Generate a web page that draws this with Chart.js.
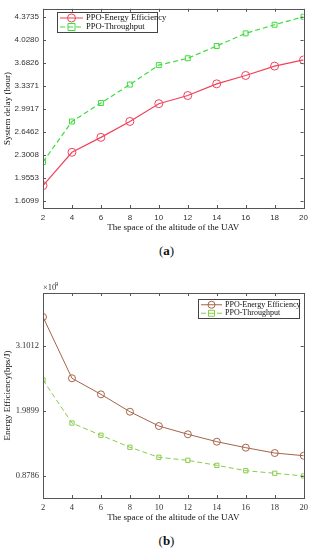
<!DOCTYPE html>
<html>
<head>
<meta charset="utf-8">
<script src="https://cdn.jsdelivr.net/npm/chart.js@4.4.0/dist/chart.umd.min.js"></script>
<style>
  body { margin: 0; background: #fff; width: 313px; height: 550px; position: relative; overflow: hidden; }
  canvas { position: absolute; left: 0; }
  #cA { top: 0; }
  #cB { top: 262px; }
  .cap { position: absolute; width: 313px; left: 10px; text-align: center; font-family: "Liberation Serif", serif; font-size: 13px; color: #111; }
</style>
</head>
<body>
<canvas id="cA" width="313" height="236"></canvas>
<div class="cap" style="top:243px">(<b>a</b>)</div>
<canvas id="cB" width="313" height="264"></canvas>
<div class="cap" style="top:533px">(<b>b</b>)</div>
<script>
// x axis: space of the altitude of the UAV
var altitudes = [2, 4, 6, 8, 10, 12, 14, 16, 18, 20];

// (a) system delay (hour)
var delayEnergyEff = [1.837, 2.339, 2.564, 2.803, 3.071, 3.194, 3.370, 3.496, 3.637, 3.730];
var delayThroughput = [2.193, 2.803, 3.081, 3.359, 3.652, 3.755, 3.940, 4.130, 4.260, 4.380];
var delayTicks = ['1.6099', '1.9553', '2.3008', '2.6462', '2.9917', '3.3371', '3.6826', '4.0280', '4.3735'];

// (b) energy efficiency (x10^9 bps/J)
var eeEnergyEff = [3.590, 2.544, 2.270, 1.973, 1.729, 1.588, 1.461, 1.359, 1.268, 1.222];
var eeThroughput = [2.515, 1.780, 1.571, 1.366, 1.195, 1.143, 1.058, 0.966, 0.922, 0.876];
var eeTicks = ['0.8786', '1.9899', '3.1012'];

function pts(vals) {
    return altitudes.map(function(x, i) { return {x: x, y: vals[i]}; });
}

// matlab style box with inward ticks
var matlabFrame = {
    id: 'matlabFrame',
    afterDraw: function(chart) {
        var ctx = chart.ctx, a = chart.chartArea;
        var x = chart.scales.x, y = chart.scales.y;
        ctx.save();
        ctx.strokeStyle = '#555';
        ctx.lineWidth = 1;
        ctx.strokeRect(Math.round(a.left) + 0.5, Math.round(a.top) + 0.5, Math.round(a.width), Math.round(a.height));
        ctx.beginPath();
        x.ticks.forEach(function(t) {
            var px = Math.round(x.getPixelForValue(t.value)) + 0.5;
            ctx.moveTo(px, a.bottom); ctx.lineTo(px, a.bottom - 3);
            ctx.moveTo(px, a.top); ctx.lineTo(px, a.top + 3);
        });
        y.ticks.forEach(function(t) {
            var py = Math.round(y.getPixelForValue(t.value)) + 0.5;
            ctx.moveTo(a.left, py); ctx.lineTo(a.left + 3, py);
            ctx.moveTo(a.right, py); ctx.lineTo(a.right - 3, py);
        });
        ctx.stroke();
        ctx.restore();
    }
};

// legend box drawn inside the plot
var boxLegend = {
    id: 'boxLegend',
    afterDraw: function(chart, args, o) {
        var ctx = chart.ctx;
        ctx.save();
        ctx.fillStyle = '#fff';
        ctx.fillRect(o.x, o.y, o.w, o.h);
        ctx.strokeStyle = '#444';
        ctx.lineWidth = 1;
        ctx.strokeRect(o.x + 0.5, o.y + 0.5, o.w, o.h);
        ctx.font = o.font;
        ctx.textBaseline = 'middle';
        chart.data.datasets.forEach(function(ds, i) {
            var cy = o.y + o.h / 2 + (i - 0.5) * (o.h / 2 - 1) + 0.5;
            var x0 = o.x + 3, x1 = o.x + 3 + o.lineLen;
            ctx.strokeStyle = ds.borderColor;
            ctx.lineWidth = 1;
            ctx.setLineDash(ds.borderDash || []);
            ctx.beginPath(); ctx.moveTo(x0, cy); ctx.lineTo(x1, cy); ctx.stroke();
            ctx.setLineDash([]);
            var cx = (x0 + x1) / 2;
            ctx.beginPath();
            if (ds.pointStyle === 'rect') {
                var s = ds.pointRadius;
                ctx.rect(cx - s, cy - s, 2 * s, 2 * s);
            } else {
                ctx.arc(cx, cy, ds.pointRadius, 0, Math.PI * 2);
            }
            ctx.stroke();
            ctx.fillStyle = '#111';
            ctx.fillText(ds.label, x1 + 3, cy);
        });
        ctx.restore();
    }
};

var serif = '"Liberation Serif", "Times New Roman", serif';

function makeChart(id, sets, yMin, yMax, yTicks, yTitle, tickFont, pad, legend) {
    return new Chart(document.getElementById(id).getContext('2d'), {
        type: 'line',
        data: { datasets: sets },
        options: {
            responsive: false,
            animation: false,
            layout: { padding: pad },
            elements: { line: { tension: 0 } },
            scales: {
                x: {
                    type: 'linear', min: 2, max: 20,
                    grid: { display: false, drawTicks: false }, border: { display: false },
                    ticks: { stepSize: 2, color: '#333', font: tickFont, padding: 5, maxRotation: 0 },
                    title: { display: true, text: 'The space of the altitude of the UAV', color: '#111',
                             font: { family: serif, size: 9 }, padding: { top: 0, bottom: 3 } },
                    afterFit: function(s) { s.height = 28; }
                },
                y: {
                    min: yMin, max: yMax,
                    grid: { display: false, drawTicks: false }, border: { display: false },
                    afterBuildTicks: function(s) { s.ticks = yTicks.map(function(v) { return {value: parseFloat(v)}; }); },
                    ticks: { color: '#333', font: tickFont, padding: 4,
                             callback: function(v) { return yTicks.find(function(t) { return parseFloat(t) === v; }); } },
                    title: { display: true, text: yTitle, color: '#111',
                             font: { family: serif, size: 9 }, padding: { top: 2, bottom: 0 } },
                    afterFit: function(s) { s.width = 43; }
                }
            },
            plugins: {
                legend: { display: false },
                tooltip: { enabled: false },
                boxLegend: legend
            }
        },
        plugins: [matlabFrame, boxLegend]
    });
}

makeChart('cA', [
    { label: 'PPO-Energy Efficiency', data: pts(delayEnergyEff), borderColor: '#f0425c', borderWidth: 1.2,
      pointStyle: 'circle', pointRadius: 4, pointBackgroundColor: 'rgba(0,0,0,0)', pointBorderColor: '#f0425c', pointBorderWidth: 1 },
    { label: 'PPO-Throughput', data: pts(delayThroughput), borderColor: '#3ddc3d', borderWidth: 1.2, borderDash: [5, 3],
      pointStyle: 'rect', pointRadius: 3.5, pointBackgroundColor: 'rgba(0,0,0,0)', pointBorderColor: '#3ddc3d', pointBorderWidth: 1 }
], 1.5, 4.5, delayTicks, 'System delay (hour)', { family: '"Liberation Sans", Arial, sans-serif', size: 8 },
   { left: 0, right: 9, top: 3, bottom: 0 },
   { x: 57, y: 12, w: 100, h: 20, lineLen: 23, font: '8.5px ' + serif });

var chartB = makeChart('cB', [
    { label: 'PPO-Energy Efficiency', data: pts(eeEnergyEff), borderColor: '#a5634a', borderWidth: 1,
      pointStyle: 'circle', pointRadius: 3.5, pointBackgroundColor: 'rgba(0,0,0,0)', pointBorderColor: '#a5634a', pointBorderWidth: 1 },
    { label: 'PPO-Throughput', data: pts(eeThroughput), borderColor: '#8acb4a', borderWidth: 1, borderDash: [5, 3],
      pointStyle: 'rect', pointRadius: 3, pointBackgroundColor: 'rgba(0,0,0,0)', pointBorderColor: '#8acb4a', pointBorderWidth: 1 }
], 0.5, 4.0, eeTicks, 'Energy Efficiency(bps/J)', { family: serif, size: 8.5 },
   { left: 0, right: 9, top: 31, bottom: 0 },
   { x: 198, y: 37, w: 101, h: 19, lineLen: 21, font: '8px ' + serif });

// x10^9 exponent label above the y axis
(function() {
    var ctx = chartB.ctx;
    ctx.save();
    ctx.fillStyle = '#333';
    ctx.font = '8.5px ' + serif;
    ctx.textBaseline = 'alphabetic';
    ctx.fillText('\u00d710', 43, 28);
    ctx.font = '6.5px ' + serif;
    ctx.fillText('9', 55, 24);
    ctx.restore();
})();
</script>
</body>
</html>
